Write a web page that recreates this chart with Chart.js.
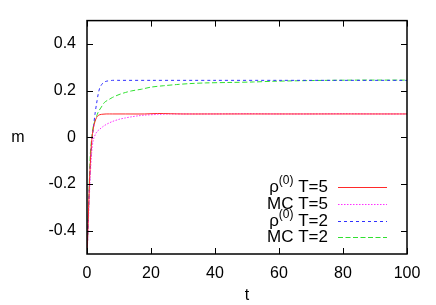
<!DOCTYPE html>
<html>
<head>
<meta charset="utf-8">
<script src="https://cdn.jsdelivr.net/npm/chart.js@4"></script>
<style>
  html, body {margin: 0; padding: 0; background: #fff;}
  canvas {display: block;}
</style>
</head>
<body>
<canvas id="chart" width="436" height="305"></canvas>
<script>
// values
let xTicks = [0, 20, 40, 60, 80, 100]
let yTicks = [-0.4, -0.2, 0, 0.2, 0.4]

let rhoT5_t = [0, 0.5, 1, 1.5, 2, 2.5, 3, 3.5, 4, 5, 6, 8, 12, 18, 22, 26, 30, 40, 50, 60, 70, 80, 90, 100]
let rhoT5_m = [-0.52, -0.3, -0.12, -0.01, 0.04, 0.068, 0.085, 0.093, 0.097, 0.099, 0.1, 0.1, 0.1, 0.1, 0.102, 0.101, 0.1, 0.1, 0.1, 0.1, 0.1, 0.1, 0.1, 0.1]

let mcT5_t = [0, 0.5, 1, 1.5, 2, 3, 4, 5, 6, 7, 8, 10, 12, 14, 16, 18, 22, 26, 30, 40, 50, 60, 70, 80, 90, 100]
let mcT5_m = [-0.52, -0.34, -0.17, -0.06, -0.01, 0.022, 0.035, 0.046, 0.055, 0.062, 0.068, 0.077, 0.083, 0.088, 0.092, 0.095, 0.098, 0.1, 0.1, 0.1, 0.101, 0.1, 0.1, 0.101, 0.1, 0.1]

let rhoT2_t = [0, 0.5, 1, 1.5, 2, 2.5, 3, 3.5, 4, 5, 6, 8, 10, 20, 40, 60, 80, 100]
let rhoT2_m = [-0.52, -0.3, -0.13, -0.02, 0.04, 0.1, 0.145, 0.185, 0.212, 0.233, 0.24, 0.244, 0.244, 0.244, 0.244, 0.244, 0.244, 0.244]

let mcT2_t = [0, 0.5, 1, 1.5, 2, 3, 3.5, 4.5, 5.5, 7, 8, 10, 12, 14, 17, 20, 24, 28, 32, 37, 45, 52, 58, 65, 75, 85, 100]
let mcT2_m = [-0.52, -0.3, -0.08, 0.0, 0.05, 0.09, 0.108, 0.13, 0.15, 0.163, 0.171, 0.183, 0.192, 0.199, 0.206, 0.215, 0.221, 0.226, 0.23, 0.233, 0.235, 0.237, 0.24, 0.242, 0.244, 0.245, 0.245]

let seriesLabels = ["T=5", "T=5", "T=2", "T=2"]
let seriesPrefix = ["rho", "MC", "rho", "MC"]
let lineColors = ["#ff2a2a", "#ff30ff", "#3030ff", "#30e030"]
let lineDashes = [[], [1.5, 1.5], [3, 3], [5, 2.5]]

function points (ts, ms) {
    return ts.map((t, i) => ({x: t, y: ms[i]}))
}

let data = {
    datasets: [
        points(rhoT5_t, rhoT5_m),
        points(mcT5_t, mcT5_m),
        points(rhoT2_t, rhoT2_m),
        points(mcT2_t, mcT2_m)
    ].map((pts, i) => ({
        data: pts,
        borderColor: lineColors[i],
        borderDash: lineDashes[i],
        borderWidth: 1,
        pointRadius: 0,
        tension: 0.3,
        fill: false
    }))
}

let family = "'Liberation Sans', Arial, sans-serif"
let font = "16px " + family
let keyFont = "17px " + family

let framePlugin = {
    id: "frame",
    afterDatasetsDraw (chart) {
        let ctx = chart.ctx
        let a = chart.chartArea
        let xs = chart.scales.x
        let ys = chart.scales.y
        ctx.save()
        ctx.strokeStyle = "#000"
        ctx.lineWidth = 1
        ctx.beginPath()
        for (let v of xTicks) {
            let px = Math.round(xs.getPixelForValue(v)) + 0.5
            ctx.moveTo(px, a.bottom); ctx.lineTo(px, a.bottom - 6)
            ctx.moveTo(px, a.top); ctx.lineTo(px, a.top + 6)
        }
        for (let v of yTicks) {
            let py = Math.round(ys.getPixelForValue(v)) + 0.5
            ctx.moveTo(a.left, py); ctx.lineTo(a.left + 6, py)
            ctx.moveTo(a.right, py); ctx.lineTo(a.right - 6, py)
        }
        ctx.stroke()
        ctx.lineWidth = 1.5
        ctx.strokeRect(a.left, a.top, a.right - a.left, a.bottom - a.top)

        // axis titles
        ctx.fillStyle = "#000"
        ctx.font = font
        ctx.textAlign = "center"
        ctx.textBaseline = "middle"
        ctx.fillText("m", 18, (a.top + a.bottom) / 2)
        ctx.fillText("t", (a.left + a.right) / 2, 296)

        // key
        let textRight = 328
        let rowY = [187, 204, 221, 237]
        for (let i = 0; i < seriesLabels.length; i++) {
            let y = rowY[i]
            ctx.textBaseline = "middle"
            ctx.textAlign = "right"
            ctx.font = keyFont
            let rest = " " + seriesLabels[i]
            if (seriesPrefix[i] == "rho") {
                ctx.fillText(rest, textRight, y)
                let w = ctx.measureText(rest).width
                ctx.font = "12px " + family
                ctx.fillText("(0)", textRight - w, y - 6)
                let w2 = ctx.measureText("(0)").width
                ctx.font = keyFont
                ctx.fillText("ρ", textRight - w - w2, y)
            } else {
                ctx.fillText("MC" + rest, textRight, y)
            }
            ctx.strokeStyle = lineColors[i]
            ctx.setLineDash(lineDashes[i])
            ctx.lineWidth = 1
            ctx.beginPath()
            ctx.moveTo(338, y + 0.5)
            ctx.lineTo(387, y + 0.5)
            ctx.stroke()
            ctx.setLineDash([])
        }
        ctx.restore()
    }
}

let chart = new Chart("chart", {
    type: "line",
    data: data,
    options: {
        responsive: false,
        animation: {duration: 0},
        layout: {padding: {left: 0, right: 29, top: 20, bottom: 0}},
        plugins: {legend: {display: false}, tooltip: {enabled: false}},
        scales: {
            x: {
                type: "linear",
                min: 0, max: 100,
                grid: {display: false, drawTicks: false},
                border: {display: false},
                afterFit: (s) => { s.height = 51 },
                afterBuildTicks: (s) => { s.ticks = xTicks.map(v => ({value: v})) },
                ticks: {color: "#000", font: {family: family, size: 16}, padding: 10, maxRotation: 0, autoSkip: false, callback: (v) => String(v)}
            },
            y: {
                type: "linear",
                min: -0.5, max: 0.5,
                grid: {display: false, drawTicks: false},
                border: {display: false},
                afterFit: (s) => { s.width = 87 },
                afterBuildTicks: (s) => { s.ticks = yTicks.map(v => ({value: v})) },
                ticks: {color: "#000", font: {family: family, size: 16}, padding: 11, autoSkip: false, callback: (v) => String(v)}
            }
        }
    },
    plugins: [framePlugin]
})
</script>
</body>
</html>
